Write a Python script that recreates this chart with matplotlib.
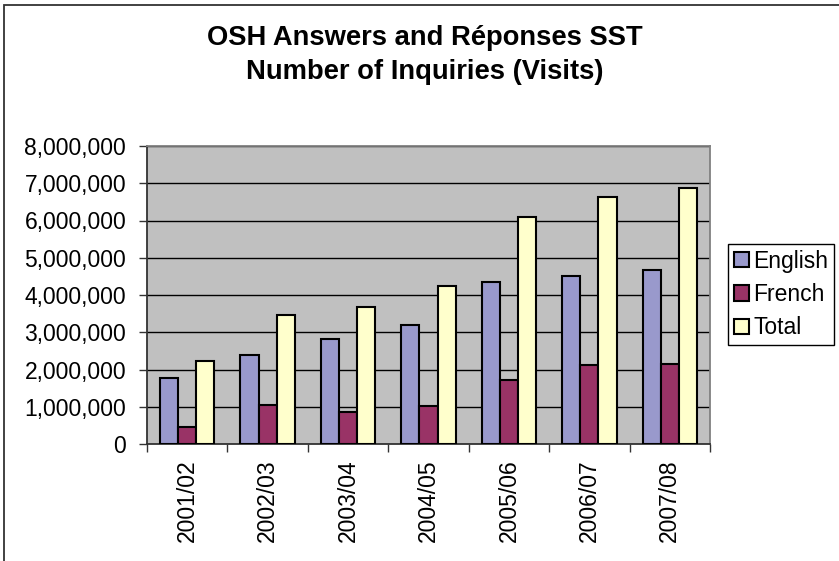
import numpy as np
import matplotlib.pyplot as plt
from matplotlib.patches import Rectangle
from matplotlib.ticker import FuncFormatter

# Data
years = ['2001/02', '2002/03', '2003/04', '2004/05', '2005/06', '2006/07', '2007/08']
english = [1760000, 2380000, 2820000, 3190000, 4340000, 4500000, 4680000]
french = [450000, 1050000, 850000, 1020000, 1720000, 2120000, 2160000]
total = [2220000, 3450000, 3690000, 4250000, 6100000, 6640000, 6870000]

plt.rcParams['font.family'] = ['Liberation Sans', 'DejaVu Sans']

W, H = 839, 561
fig = plt.figure(figsize=(W / 100, H / 100), dpi=100)

# outer chart frame (cut off at right and bottom in the original)
fig.patches.append(Rectangle((4 / W, -0.5), 2, 1.5 - 5 / H, transform=fig.transFigure,
                             fill=False, edgecolor='#333333', linewidth=1.3))

ax = fig.add_axes([147 / W, (H - 444) / H, (710 - 147) / W, (444 - 146) / H])
ax.set_facecolor('#C0C0C0')

x = np.arange(len(years))
w = 0.225
kw = dict(edgecolor='black', linewidth=1.5, zorder=3)
ax.bar(x - w, english, w, color='#9999CC', label='English', **kw)
ax.bar(x, french, w, color='#993366', label='French', **kw)
ax.bar(x + w, total, w, color='#FFFFCC', label='Total', **kw)

ax.set_xlim(-0.5, len(years) - 0.5)
ax.set_ylim(0, 8000000)
ax.set_yticks(np.arange(0, 8000001, 1000000))
ax.yaxis.set_major_formatter(FuncFormatter(lambda v, p: f'{int(v):,}'))
ax.grid(axis='y', color='black', linewidth=1, zorder=1)
ax.set_axisbelow(True)

# category labels at centres, tick marks at the boundaries
ax.set_xticks(x)
ax.set_xticklabels(years, rotation=90)
ax.tick_params(axis='x', length=0, pad=11, labelsize=16.5)
ax.set_xticks(np.arange(-0.5, len(years)), minor=True)
ax.tick_params(axis='x', which='minor', length=6, width=1, color='#333333')
ax.tick_params(axis='y', length=6, width=1, color='#333333', labelsize=16.5, pad=9)

for s in ['left', 'bottom']:
    ax.spines[s].set_color('#333333')
    ax.spines[s].set_linewidth(1.3)
for s in ['top', 'right']:
    ax.spines[s].set_color('#808080')
    ax.spines[s].set_linewidth(1.3)

fig.text(425 / W, 1 - 55 / H, 'OSH Answers and Réponses SST\nNumber of Inquiries (Visits)',
         ha='center', va='center', fontsize=19.7, fontweight='bold', linespacing=1.4)

leg = fig.legend(loc='upper left', bbox_to_anchor=(728 / W, 1 - 244 / H), fontsize=16.5,
                 frameon=True, fancybox=False, edgecolor='black', framealpha=1,
                 handlelength=0.65, handleheight=0.65, handletextpad=0.2,
                 borderpad=0.25, labelspacing=0.45, borderaxespad=0)
leg.get_frame().set_linewidth(1)

fig.savefig('out.png', dpi=100)
